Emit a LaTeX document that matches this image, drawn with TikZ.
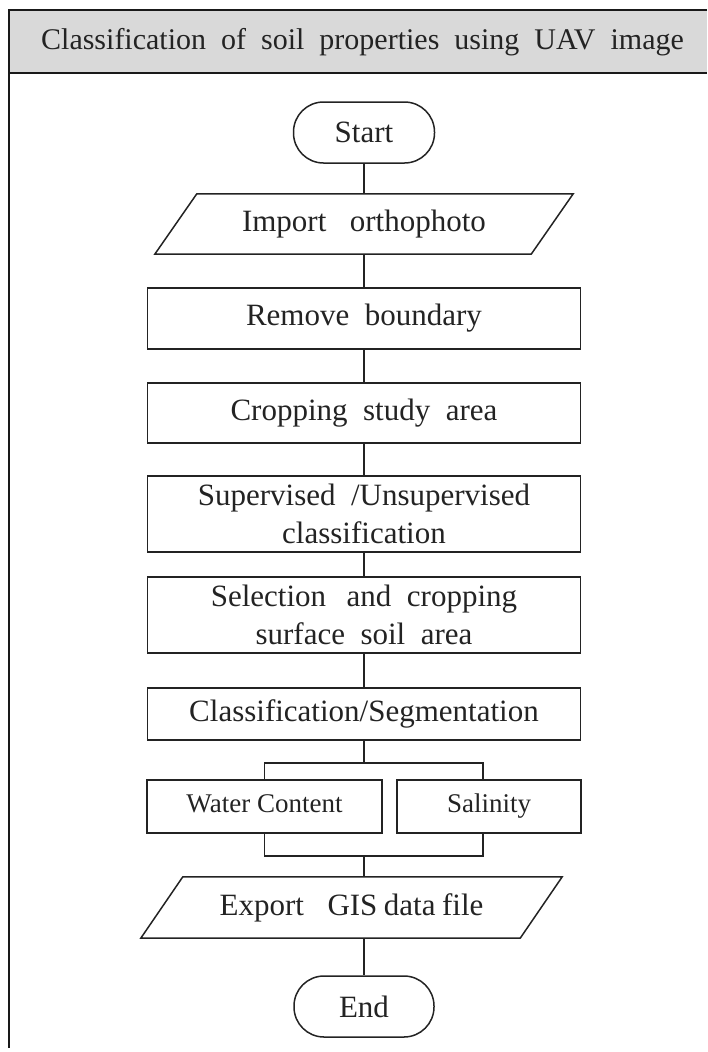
\documentclass[tikz,border=0pt]{standalone}
\usepackage{fontspec}
\setmainfont{Liberation Serif}[WordSpace=2]
\newfontfamily\plainserif{Liberation Serif}
\definecolor{headgray}{RGB}{217,217,217}
\definecolor{ink}{RGB}{35,35,35}
\begin{document}
\begin{tikzpicture}[x=1pt,y=-1pt,
  every node/.style={font=\fontsize{31}{38}\selectfont, inner sep=0pt, align=center, text=ink},
  line/.style={line width=1.5pt, draw=ink},
  proc/.style={line, minimum width=433pt},
  term/.style={line, rounded corners=30pt, minimum width=141pt, minimum height=61pt},
  iotext/.style={minimum height=60pt},
  small/.style={font=\plainserif\fontsize{27}{32}\selectfont, text height=18pt, text depth=6pt},
  link/.style={line},
  frame/.style={line width=2pt, draw=black!90}
]
\useasboundingbox (0,0) rectangle (707,1052);

% outer frame and title band
\fill[headgray] (9,10) rectangle (707,73);
\draw[frame] (707,10) -- (9,10) -- (9,1048);
\draw[frame] (9,73) -- (707,73);
\node[font=\fontsize{30}{36}\selectfont] (title) at (362.5,42)
  {Classification of soil properties using UAV image};

% flow steps
\node[term] (start) at (364,132.5) {Start};
\node[iotext, minimum width=376pt] (import) at (364,224) {Import\hspace{8pt} orthophoto};
\node[proc, minimum height=61pt] (remove) at (364,318.5) {Remove boundary};
\node[proc, minimum height=60pt] (crop) at (364,413) {Cropping study area};
\node[proc, minimum height=76pt] (sup) at (364,514) {Supervised /Unsupervised\\classification};
\node[proc, minimum height=76pt] (sel) at (364,615) {Selection\hspace{5pt} and cropping\\surface soil area};
\node[proc, minimum height=52pt] (cls) at (364,714) {Classification/Segmentation};
\node[line, small, minimum width=235pt, minimum height=53pt] (water) at (264.5,806.5) {Water Content};
\node[line, small, minimum width=184pt, minimum height=53pt] (sal) at (489,806.5) {Salinity};
\node[iotext, minimum width=379pt, minimum height=61pt] (export) at (351.5,907.5)
  {Export\hspace{8pt} GIS\hspace{-9pt} data\hspace{-9pt} file};
\node[term, minimum width=140pt] (end) at (364,1006.5) {End};

% input/output parallelograms around the text nodes
\foreach \n in {import,export}{
  \draw[line] ([xshift=-21pt]\n.south west) -- ([xshift=21pt]\n.north west)
    -- ([xshift=21pt]\n.north east) -- ([xshift=-21pt]\n.south east) -- cycle;
}

% connectors
\draw[link] (start.south) -- (start.south |- import.north);
\draw[link] (import.south) -- (import.south |- remove.north);
\draw[link] (remove) -- (crop);
\draw[link] (crop) -- (sup);
\draw[link] (sup) -- (sel);
\draw[link] (sel) -- (cls);
\coordinate (split) at (364,763);
\coordinate (join) at (364,856);
\draw[link] (cls.south -| split) -- (split);
\draw[link] (water.north) |- (split) -| ([xshift=-6pt]sal.north);
\draw[link] (water.south) |- (join) -| ([xshift=-6pt]sal.south);
\draw[link] (join) -- (join |- export.north);
\draw[link] (end.north |- export.south) -- (end.north);
\end{tikzpicture}
\end{document}
